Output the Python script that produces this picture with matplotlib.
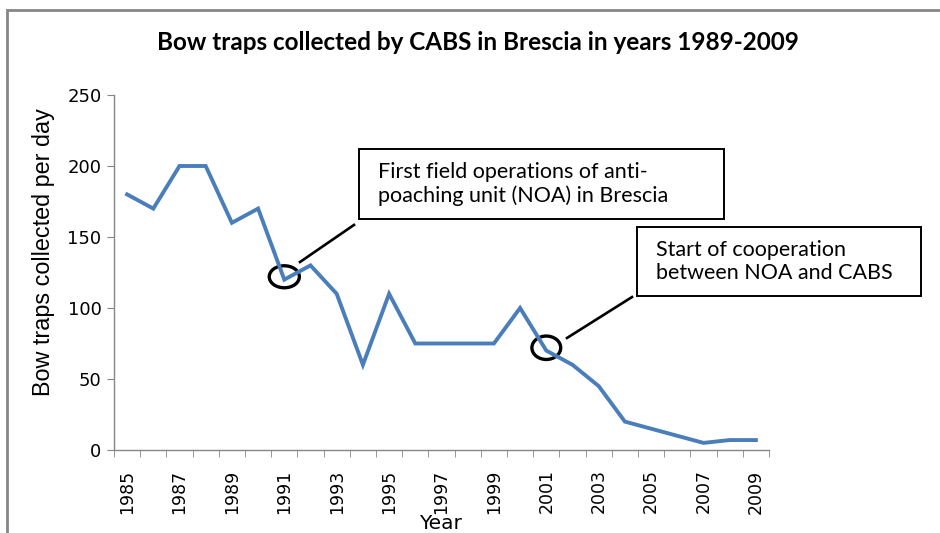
import matplotlib
matplotlib.use('Agg')
import matplotlib.pyplot as plt
import matplotlib.patches as patches
import numpy as np

# ---[DATA]---
years = list(range(1985, 2010))
traps = [180, 170, 200, 200, 160, 170, 120, 130, 110, 60, 110, 75, 75,
         75, 75, 100, 70, 60, 45, 20, 15, 10, 5, 7, 7]
y_ticks = [0, 50, 100, 150, 200, 250]
title = 'Bow traps collected by CABS in Brescia in years 1989-2009'
note1 = 'First field operations of anti-\npoaching unit (NOA) in Brescia'
note2 = 'Start of cooperation\nbetween NOA and CABS'
# ------------

W, H = 940, 533
fig = plt.figure(figsize=(W / 100, H / 100), dpi=100)
ax = fig.add_axes([114 / W, 1 - 450 / H, 655 / W, 355 / H])

x = np.arange(len(years))
ax.plot(x, traps, color='#4a7ebb', lw=2.8, solid_joinstyle='miter')

ax.set_xlim(-0.5, len(years) - 0.5)
ax.set_ylim(0, 250)
ax.set_yticks(y_ticks)
ax.set_xticks(x[::2])
ax.set_xticklabels([str(y) for y in years[::2]], rotation=90)
ax.set_xticks(np.arange(-0.5, len(years), 1), minor=True)

for s in ['top', 'right']:
    ax.spines[s].set_visible(False)
for s in ['left', 'bottom']:
    ax.spines[s].set_color('#868686')
    ax.spines[s].set_linewidth(1)

ax.tick_params(axis='y', length=5, color='#868686', labelsize=13, pad=4)
ax.tick_params(axis='x', which='major', length=0, labelsize=12.5, pad=14)
ax.tick_params(axis='x', which='minor', length=5, color='#868686')

ax.set_ylabel('Bow traps collected per day', fontsize=16.8,
              family='Liberation Sans', va='center')
ax.yaxis.set_label_coords(-0.108, 0.558)
ax.set_xlabel('Year', fontsize=14.5, va='center')
ax.xaxis.set_label_coords(0.499, -0.208)

fig.text(478 / W, 1 - 42 / H, title, ha='center', va='center',
         fontsize=17.5, fontweight='bold', family='Lato')

# circles around the key years
ax.add_patch(patches.Ellipse((6, 122), 1.15, 15.5, fill=False, lw=2.4,
                             ec='black', clip_on=False))
ax.add_patch(patches.Ellipse((16, 72), 1.1, 16.5, fill=False, lw=2.4,
                             ec='black', clip_on=False))

# leader lines
ax.plot([6.6, 8.66], [132.4, 158.5], color='black', lw=1.9, clip_on=False)
ax.plot([16.79, 19.27], [78.9, 107.7], color='black', lw=1.9, clip_on=False)

# callout boxes (pixel layout -> figure fraction)
def box(x0, y0, x1, y1, txt, tx):
    fig.patches.append(patches.Rectangle((x0 / W, 1 - y1 / H), (x1 - x0) / W,
                                         (y1 - y0) / H, transform=fig.transFigure,
                                         fill=False, ec='black', lw=1.4))
    fig.text(tx / W, 1 - (y0 + y1) / 2 / H, txt, ha='left', va='center',
             fontsize=15.5, family='Lato', linespacing=1.15)

box(359, 149, 724, 219, note1, 378)
box(637, 227, 921, 296, note2, 656)

# outer chart frame
fig.patches.append(patches.Rectangle((7 / W, -0.05), 1.05, 1 - 10 / H + 0.05,
                                     transform=fig.transFigure, fill=False,
                                     ec='#868686', lw=2))

fig.savefig('out.png', dpi=100)
